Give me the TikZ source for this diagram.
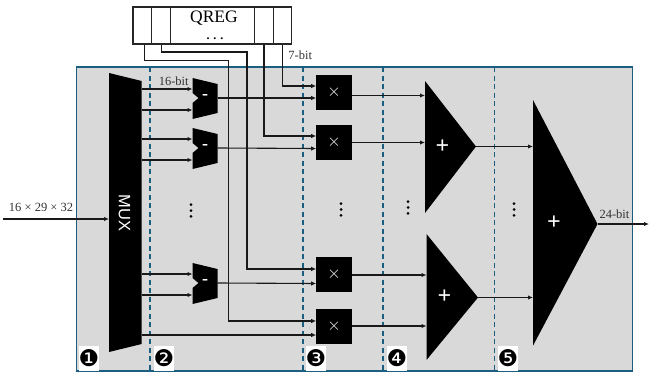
\documentclass[tikz,border=0pt]{standalone}
\usepackage{fontspec}
\setmainfont{Liberation Serif}
\setsansfont{Liberation Sans}
\newfontfamily\numfont{DejaVu Sans}
\usetikzlibrary{arrows.meta}
\definecolor{panelgray}{HTML}{D9D9D9}
\definecolor{panelblue}{HTML}{1B5E80}
\tikzset{
  wire/.style={line width=1.1pt,draw=black!90,-{Latex[length=5pt,width=4.5pt]}},
  cell/.style={draw=black!85,line width=1.2pt,fill=white,minimum height=37pt,inner sep=0pt},
  mult/.style={fill=black,minimum width=35.5pt,minimum height=35pt,inner sep=0pt,text=white,font=\fontsize{17}{17}\selectfont},
  stage/.style={draw=panelblue,dash pattern=on 5pt off 3.5pt,line width=1.2pt},
  stagenum/.style={fill=white,inner sep=0pt,minimum width=20pt,minimum height=25pt,font=\numfont\fontsize{23}{23}\selectfont},
  lab/.style={font=\fontsize{12.5}{13}\selectfont,text=black!80,inner sep=0pt},
  sym/.style={text=white,inner sep=0pt,font=\bfseries\fontsize{24}{24}\selectfont},
  dot/.style={fill=black,circle,minimum size=3pt,inner sep=0pt},
}
\newcommand{\subunit}[2]{% name, centre y
  \fill (192.5,#2-20) -- (217.5,#2-14) -- (217.5,#2+15) -- (192.5,#2+21) -- (192.5,#2+5) -- (198.5,#2) -- (192.5,#2-5) -- cycle;
  \node[sym,font=\bfseries\fontsize{18}{18}\selectfont] (#1) at (205,#2-1) {-};
  \coordinate (#1 a) at (192.5,#2-9);
  \coordinate (#1 b) at (192.5,#2+12);
  \coordinate (#1 o) at (217.5,#2);
}
\begin{document}
\begin{tikzpicture}[x=1pt,y=-1pt]
  \useasboundingbox (0,0) rectangle (649,372);
  \filldraw[fill=panelgray,draw=panelblue,line width=1.3pt] (76.5,67) rectangle (632.5,371);
  \foreach \x in {150,303,383,494.5} \draw[stage] (\x,67) -- (\x,371);

  % register
  \node[cell,minimum width=18.5pt] (q1) at (142.2,25.5) {};
  \node[cell,minimum width=19pt] (q2) at (161,25.5) {};
  \node[cell,minimum width=84pt] (qm) at (212.5,25.5) {};
  \node[cell,minimum width=19pt] (q3) at (264,25.5) {};
  \node[cell,minimum width=18pt] (q4) at (282.5,25.5) {};
  \node[inner sep=0pt,font=\fontsize{17.5}{18}\selectfont] (qname) at (214,18.5) {QREG};
  \node[inner sep=0pt,font=\bfseries\fontsize{12}{12}\selectfont] (qdots) at (215,38.5) {. . .};

  % mux and adders
  \fill (109,73) -- (141.7,81) -- (141.7,344) -- (109,352) -- cycle;
  \node[text=white,rotate=-90,inner sep=0pt,font=\sffamily\fontsize{16.5}{17}\selectfont] (mux) at (124.5,213) {MUX};
  \fill (425,81) -- (476,146.5) -- (425,213) -- cycle;
  \node[sym] (add1) at (442.5,147) {+};
  \fill (426.5,234) -- (478,297.5) -- (426.5,360) -- cycle;
  \node[sym] (add2) at (444.5,297) {+};
  \fill (533,100) -- (597.5,224) -- (533,345.7) -- cycle;
  \node[sym] (add3) at (554,223) {+};

  \subunit{sub1}{98}
  \subunit{sub2}{148}
  \subunit{sub3}{283}

  \node[mult] (mul1) at (334,92.5) {$\times$};
  \node[mult] (mul2) at (334,142.5) {$\times$};
  \node[mult] (mul3) at (334,274.5) {$\times$};
  \node[mult] (mul4) at (334,326.5) {$\times$};

  % ports
  \coordinate (in) at (3,219);
  \coordinate (out) at (649,224);
  \coordinate (muxin) at (109,219);
  \coordinate (add3o) at (597.5,224);
  \coordinate (add1o) at (476,146.5);
  \coordinate (add2o) at (478,297.5);

  % register wires
  \draw[wire] ([xshift=2pt]q1.south) |- (228.5,60.5) -- (228.5,321) -- (316.2,321);
  \draw[wire] ([xshift=0.5pt]q2.south) |- (247,52) -- (247,269) -- (316.2,269);
  \draw[wire] (q3.south) |- (316.2,136);
  \draw[wire] (q4.south) |- (316.2,86);

  % mux to subtractors
  \draw[wire] (141.7,89) -- (sub1 a);
  \draw[wire] (141.7,110) -- (sub1 b);
  \draw[wire] (141.7,139) -- (sub2 a);
  \draw[wire] (141.7,160) -- (sub2 b);
  \draw[wire] (141.7,274) -- (sub3 a);
  \draw[wire] (141.7,295) -- (sub3 b);
  \draw[wire] (141.7,335) -- (316.2,335);

  % subtractors to multipliers
  \draw[wire] (sub1 o) -- (316.2,98);
  \draw[wire] (sub2 o) -- (316.2,148.5);
  \draw[wire] (sub3 o) -- (316.2,283.5);

  % multipliers to adders
  \draw[wire] (351.8,95.5) -- (425,95.5);
  \draw[wire] (351.8,142.5) -- (425,142.5);
  \draw[wire] (351.8,275) -- (426.5,275);
  \draw[wire] (351.8,326) -- (426.5,326);
  \draw[wire] (add1o) -- (533,146.5);
  \draw[wire] (add2o) -- (533,297.5);

  \draw[wire,line width=1.9pt] (in) -- (muxin);
  \draw[wire,line width=1.6pt] (add3o) -- (out);

  % labels
  \node[lab] (w7) at (300.3,55) {7-bit};
  \node[lab] (w16) at (173.7,81) {16-bit};
  \node[lab] (w24) at (614.5,214) {24-bit};
  \node[lab] (wdim) at (41,207) {16 × 29 × 32};

  % elided rows
  \foreach \x/\y in {191/210.5,341/209.5,408/207.5,514/209.5}
    \foreach \d in {-5.8,0,5.8} \node[dot] at (\x,\y+\d) {};

  \node[stagenum] (s1) at (89,358.5) {❶};
  \node[stagenum] (s2) at (164,358.5) {❷};
  \node[stagenum] (s3) at (316,358.5) {❸};
  \node[stagenum] (s4) at (397,358.5) {❹};
  \node[stagenum] (s5) at (508,358.5) {❺};
\end{tikzpicture}
\end{document}
